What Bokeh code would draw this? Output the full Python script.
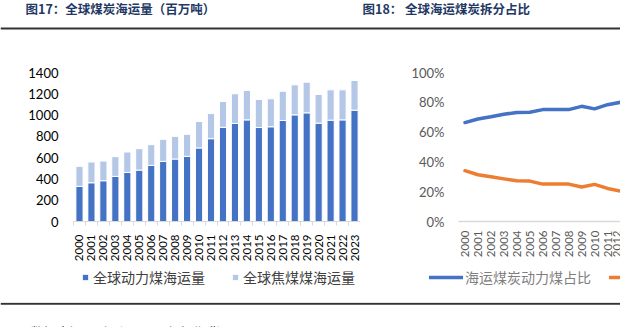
import math
from bokeh.plotting import figure
from bokeh.models import (Range1d, FixedTicker, Legend, LegendItem, Label, Span,
                          ColumnDataSource, PrintfTickFormatter)
from bokeh.layouts import column, row
from bokeh.embed import file_html
from bokeh.resources import INLINE

# ---------------- data ----------------
years = [str(y) for y in range(2000, 2024)]
thermal = [330, 364, 383, 424, 461, 483, 527, 565, 587, 612, 691, 778,
           885, 921, 955, 883, 890, 949, 1002, 1021, 924, 952, 955, 1046]
coking = [188, 195, 185, 185, 192, 201, 195, 207, 213, 207, 248, 236,
          242, 279, 276, 263, 263, 275, 282, 288, 269, 285, 282, 279]
y_ticks_17 = [0, 200, 400, 600, 800, 1000, 1200, 1400]

share_years = years[:13]
thermal_share = [66.4, 68.8, 70.3, 72.0, 73.2, 73.3, 75.1, 75.1, 75.1, 77.3, 75.6, 78.4, 80.0]
coking_share = [34.1, 31.4, 30.0, 28.6, 27.3, 27.1, 25.1, 25.1, 25.1, 23.2, 24.9, 22.2, 20.4]
y_ticks_18 = [0, 20, 40, 60, 80, 100]

title17 = "图17：全球煤炭海运量（百万吨）"
title18 = "图18：  全球海运煤炭拆分占比"
source_text = "数据来源：Clarksons，银河期货"
leg17 = ["全球动力煤海运量", "全球焦煤煤海运量"]
leg18 = ["海运煤炭动力煤占比", "海运煤炭焦煤占比"]

CJK = "Noto Sans CJK SC"
NUM = "Lato"
BLUE = "#4472C4"
LIGHT = "#B4C7E7"
ORANGE = "#ED7D31"

def blank(w, h):
    p = figure(width=w, height=h, x_range=Range1d(0, w), y_range=Range1d(h, 0),
               x_axis_location=None, y_axis_location=None, min_border=0,
               output_backend="svg", toolbar_location=None)
    p.grid.visible = False
    p.outline_line_color = None
    return p

# ---------------- top strip ----------------
pt = blank(620, 30)
pt.add_layout(Label(x=25, y=8, text=title17, text_font=CJK, text_font_style="bold",
                    text_font_size="12.5px", text_color="#1F3864", text_baseline="middle"))
pt.add_layout(Label(x=362, y=8, text=title18, text_font=CJK, text_font_style="bold",
                    text_font_size="12.5px", text_color="#1F3864", text_baseline="middle"))
pt.add_layout(Span(location=28, dimension="width", line_color="#333333", line_width=2))

# ---------------- left chart ----------------
xs = list(range(len(years)))
src = ColumnDataSource(dict(x=xs, thermal=thermal, coking=coking))
p1 = figure(width=360, height=235, x_range=Range1d(-0.5, len(years) - 0.5),
            y_range=Range1d(0, 1400), min_border_left=73, min_border_right=0,
            min_border_top=42, min_border_bottom=44,
            output_backend="svg", toolbar_location=None)
rs = p1.vbar_stack(["thermal", "coking"], x="x", width=0.6, source=src,
                   fill_color=[BLUE, LIGHT], line_color="white", line_width=1)
p1.grid.visible = False
p1.outline_line_color = None
p1.xaxis.ticker = FixedTicker(ticks=xs, minor_ticks=[i - 0.5 for i in range(len(years) + 1)])
p1.xaxis.major_label_overrides = {i: y for i, y in enumerate(years)}
p1.xaxis.major_label_orientation = math.pi / 2
p1.xaxis.axis_line_color = "#D9D9D9"
p1.xaxis.major_tick_out = 0
p1.xaxis.major_tick_in = 0
p1.xaxis.minor_tick_out = 4
p1.xaxis.minor_tick_in = 0
p1.xaxis.minor_tick_line_color = "#D9D9D9"
p1.xaxis.major_label_standoff = 9
p1.xaxis.major_label_text_font = NUM
p1.xaxis.major_label_text_font_size = "11.5px"
p1.xaxis.major_label_text_color = "#000000"
p1.yaxis.ticker = FixedTicker(ticks=y_ticks_17)
p1.yaxis.axis_line_color = None
p1.yaxis.major_tick_line_color = None
p1.yaxis.minor_tick_line_color = None
p1.yaxis.major_tick_out = 0
p1.yaxis.major_label_standoff = 15
p1.yaxis.major_label_text_font = NUM
p1.yaxis.major_label_text_font_size = "13px"
p1.yaxis.major_label_text_color = "#000000"

# ---------------- right chart ----------------
sx = list(range(len(share_years)))
p2 = figure(width=260, height=235, x_range=Range1d(-0.5, 12.0),
            y_range=Range1d(0, 100), min_border_left=98, min_border_right=0,
            min_border_top=42, min_border_bottom=44,
            output_backend="svg", toolbar_location=None)
r_t = p2.line(sx, thermal_share, line_color=BLUE, line_width=3.5, line_cap="round", line_join="round")
r_c = p2.line(sx, coking_share, line_color=ORANGE, line_width=3.5, line_cap="round", line_join="round")
p2.grid.visible = False
p2.outline_line_color = None
p2.xaxis.ticker = FixedTicker(ticks=xs)
p2.xaxis.major_label_overrides = {i: y for i, y in enumerate(years)}
p2.xaxis.major_label_orientation = math.pi / 2
p2.xaxis.axis_line_color = "#D9D9D9"
p2.xaxis.axis_line_width = 1.5
p2.xaxis.major_tick_line_color = None
p2.xaxis.minor_tick_line_color = None
p2.xaxis.major_tick_out = 0
p2.xaxis.major_label_standoff = 9
p2.xaxis.major_label_text_font = NUM
p2.xaxis.major_label_text_font_size = "11.5px"
p2.xaxis.major_label_text_color = "#595959"
p2.yaxis.ticker = FixedTicker(ticks=y_ticks_18)
p2.yaxis.formatter = PrintfTickFormatter(format="%d%%")
p2.yaxis.axis_line_color = None
p2.yaxis.major_tick_line_color = None
p2.yaxis.minor_tick_line_color = None
p2.yaxis.major_tick_out = 0
p2.yaxis.major_label_standoff = 14
p2.yaxis.major_label_text_font = NUM
p2.yaxis.major_label_text_font_size = "13px"
p2.yaxis.major_label_text_color = "#595959"

# ---------------- legend strip (proxy glyphs kept off-frame) ----------------
pl = blank(620, 37)
off = dict(x=[-50], y=[-50])
d_t = pl.vbar(x=off["x"], top=off["y"], width=1, fill_color=BLUE, line_color="white", line_width=1)
d_c = pl.vbar(x=off["x"], top=off["y"], width=1, fill_color=LIGHT, line_color="white", line_width=1)
d_lt = pl.line(x=off["x"], y=off["y"], line_color=BLUE, line_width=3.5, line_cap="round")
d_lc = pl.line(x=off["x"], y=off["y"], line_color=ORANGE, line_width=3.5, line_cap="round")
common = dict(orientation="horizontal", padding=0, margin=0, label_height=14,
              label_text_font=CJK, label_text_font_size="14px",
              border_line_alpha=0, background_fill_alpha=0)
l1 = Legend(items=[LegendItem(label=leg17[0], renderers=[d_t]),
                   LegendItem(label=leg17[1], renderers=[d_c])],
            location=(81, 15), spacing=26, label_standoff=4, glyph_width=8,
            glyph_height=8, label_text_color="#404040", **common)
l2 = Legend(items=[LegendItem(label=leg18[0], renderers=[d_lt]),
                   LegendItem(label=leg18[1], renderers=[d_lc])],
            location=(429, 15), spacing=18, label_standoff=2, glyph_width=34,
            glyph_height=8, label_text_color="#7F7F7F", **common)
pl.add_layout(l1)
pl.add_layout(l2)

# ---------------- bottom strip ----------------
pb = blank(620, 25)
pb.add_layout(Span(location=1.2, dimension="width", line_color="#333333", line_width=2))
pb.add_layout(Label(x=30, y=19, text=source_text, text_font=CJK, text_font_size="13px",
                    text_color="#333333", text_baseline="top"))

layout = column(pt, row(p1, p2, spacing=0), pl, pb, spacing=0)
open("out.html", "w").write(file_html(layout, INLINE))
